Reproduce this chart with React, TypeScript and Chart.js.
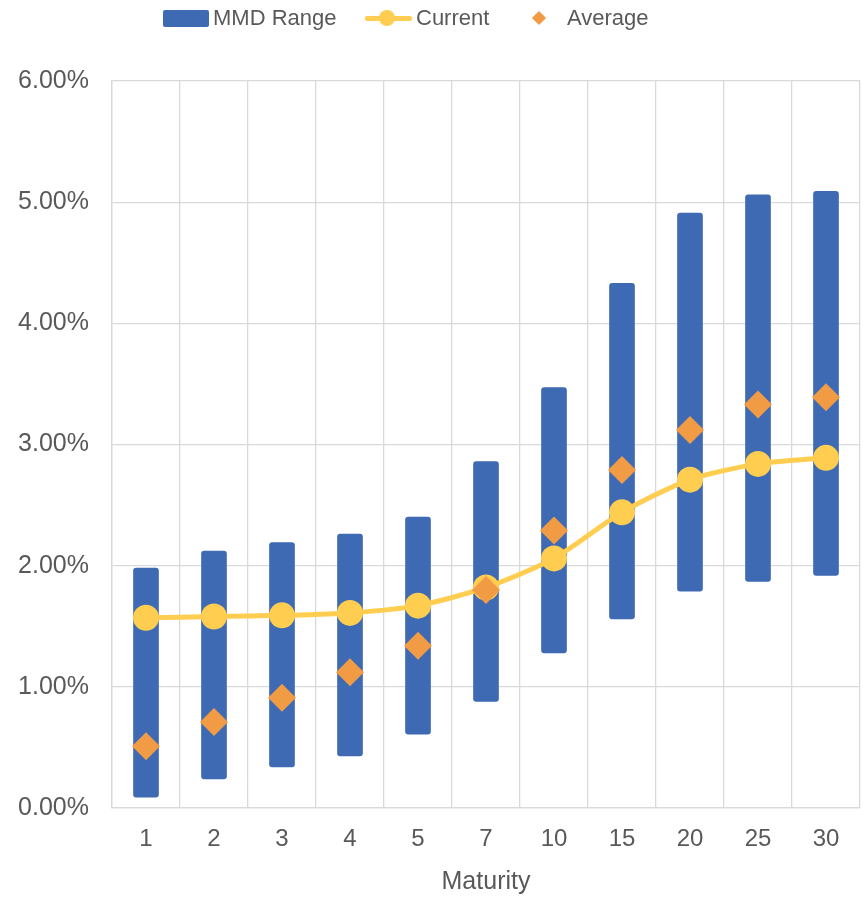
import React, { useEffect, useRef } from "react";
import { Chart, registerables } from "chart.js";

Chart.register(...registerables);

const categories = ["1", "2", "3", "4", "5", "7", "10", "15", "20", "25", "30"];
const rangeLow = [0.09, 0.24, 0.34, 0.43, 0.61, 0.88, 1.28, 1.56, 1.79, 1.87, 1.92];
const rangeHigh = [1.98, 2.12, 2.19, 2.26, 2.40, 2.86, 3.47, 4.33, 4.91, 5.06, 5.09];
const current = [1.57, 1.58, 1.59, 1.61, 1.67, 1.82, 2.06, 2.44, 2.71, 2.84, 2.89];
const average = [0.51, 0.71, 0.91, 1.12, 1.34, 1.80, 2.29, 2.79, 3.12, 3.33, 3.39];
const yTicks = [0, 1, 2, 3, 4, 5, 6];

const BLUE = "#3E6AB3";
const GOLD = "#FFCD4F";
const ORANGE = "#F29B45";
const TEXT = "#595959";
const GRID = "#D9D9D9";
const FONT = "'Liberation Sans', Arial, sans-serif";

export default function App() {
  const ref = useRef<HTMLCanvasElement | null>(null);

  useEffect(() => {
    if (!ref.current) return;
    const chart = new Chart(ref.current, {
      type: "bar",
      data: {
        labels: categories,
        datasets: [
          {
            type: "line",
            label: "Average",
            data: average,
            showLine: false,
            pointStyle: "rectRot",
            pointRadius: 14,
            pointBackgroundColor: ORANGE,
            pointBorderColor: ORANGE,
            pointBorderWidth: 0,
            order: 1,
          } as any,
          {
            type: "line",
            label: "Current",
            data: current,
            borderColor: GOLD,
            borderWidth: 5,
            tension: 0.25,
            pointStyle: "circle",
            pointRadius: 13,
            pointBackgroundColor: GOLD,
            pointBorderColor: GOLD,
            pointBorderWidth: 0,
            order: 2,
          } as any,
          {
            type: "bar",
            label: "MMD Range",
            data: rangeLow.map((lo, i) => [lo, rangeHigh[i]]),
            backgroundColor: BLUE,
            borderWidth: 0,
            borderRadius: 3,
            borderSkipped: false,
            barThickness: 25,
            order: 3,
          } as any,
        ],
      },
      options: {
        responsive: false,
        animation: false,
        layout: { autoPadding: false, padding: { top: 81, left: 0, right: 6, bottom: 0 } },
        plugins: {
          legend: { display: false },
          tooltip: { enabled: false },
        },
        scales: {
          x: {
            grid: { color: GRID, lineWidth: 1.3, drawTicks: false, offset: true },
            border: { color: GRID, width: 1.3 },
            ticks: { color: TEXT, font: { family: FONT, size: 24 }, padding: 17 },
            title: {
              display: true,
              text: "Maturity",
              color: TEXT,
              font: { family: FONT, size: 25, lineHeight: 1.2 },
              padding: { top: 0, bottom: 0 },
            },
            afterFit: (s: any) => {
              s.height = 89;
            },
          },
          y: {
            min: yTicks[0],
            max: yTicks[yTicks.length - 1],
            grid: { color: GRID, lineWidth: 1.3, drawTicks: false },
            border: { color: GRID, width: 1.3 },
            afterBuildTicks: (s: any) => {
              s.ticks = yTicks.map((v) => ({ value: v }));
            },
            ticks: {
              color: TEXT,
              font: { family: FONT, size: 25 },
              padding: 23,
              callback: (v: any) => Number(v).toFixed(2) + "%",
            },
            afterFit: (s: any) => {
              s.width = 112;
            },
          },
        },
      },
    });
    return () => chart.destroy();
  }, []);

  const textStyle: React.CSSProperties = {
    position: "absolute",
    top: 7,
    fontFamily: FONT,
    fontSize: 22,
    lineHeight: "22px",
    color: TEXT,
    whiteSpace: "nowrap",
  };

  return (
    <div style={{ position: "absolute", left: 0, top: 0, width: 866, height: 897, background: "#fff" }}>
      <canvas ref={ref} width={866} height={897} style={{ display: "block", position: "absolute", left: 0, top: 0 }} />
      <div style={{ position: "absolute", left: 163, top: 10, width: 46, height: 17, background: BLUE, borderRadius: 2 }} />
      <span style={{ ...textStyle, left: 213 }}>MMD Range</span>
      <div style={{ position: "absolute", left: 365, top: 16, width: 47, height: 5, background: GOLD, borderRadius: 2 }} />
      <div style={{ position: "absolute", left: 379, top: 10, width: 16, height: 16, background: GOLD, borderRadius: "50%" }} />
      <span style={{ ...textStyle, left: 416 }}>Current</span>
      <div
        style={{
          position: "absolute",
          left: 534,
          top: 13,
          width: 10,
          height: 10,
          background: ORANGE,
          transform: "rotate(45deg)",
        }}
      />
      <span style={{ ...textStyle, left: 567 }}>Average</span>
    </div>
  );
}
